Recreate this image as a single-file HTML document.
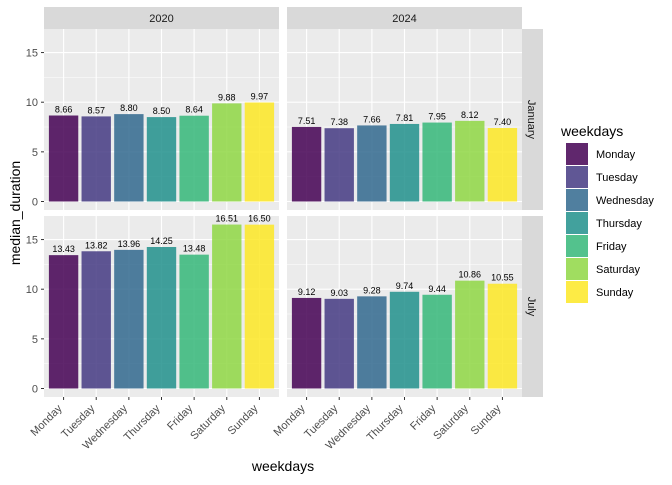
<!DOCTYPE html>
<html><head><meta charset="utf-8"><style>
body{margin:0;background:#fff;}
svg text{font-family:"Liberation Sans",sans-serif;}
</style></head><body>
<svg id="chart" width="672" height="480" xmlns="http://www.w3.org/2000/svg"></svg>
<script>
const categories=["Monday","Tuesday","Wednesday","Thursday","Friday","Saturday","Sunday"];
const colors=["#440154","#443A83","#31688E","#21908C","#35B779","#8FD744","#FDE725"];
const years=["2020","2024"];
const months=["January","July"];
const values2020Jan=[8.66,8.57,8.80,8.50,8.64,9.88,9.97];
const values2024Jan=[7.51,7.38,7.66,7.81,7.95,8.12,7.40];
const values2020Jul=[13.43,13.82,13.96,14.25,13.48,16.51,16.50];
const values2024Jul=[9.12,9.03,9.28,9.74,9.44,10.86,10.55];
const yTicks=[0,5,10,15];
const series=[[values2020Jan,values2024Jan],[values2020Jul,values2024Jul]];

const svg=document.getElementById('chart');
const NS="http://www.w3.org/2000/svg";
function mk(tag,attrs,parent){const e=document.createElementNS(NS,tag);for(const k in attrs)e.setAttribute(k,attrs[k]);(parent||svg).appendChild(e);return e;}
const panelX=[44,287],panelW=235;
const panelY=[29,216],panelH=181;
const unitX=panelW/7.2;
function xPos(px,i){return px+(0.6+i)*unitX;}
function yPos(py,v){return py+172.5-v*9.93;}

for(let r=0;r<2;r++){for(let c=0;c<2;c++){
  const px=panelX[c],py=panelY[r];
  const bg=mk('rect',{x:px,y:py,width:panelW,height:panelH,fill:'#EBEBEB'});
  
  
  for(let v=2.5;v<=17.5;v+=5){const y=yPos(py,v);if(y>py)mk('line',{x1:px,x2:px+panelW,y1:y,y2:y,stroke:'#fff','stroke-width':0.5});}
  yTicks.forEach(v=>{const y=yPos(py,v);mk('line',{x1:px,x2:px+panelW,y1:y,y2:y,stroke:'#fff','stroke-width':1.1});});
  categories.forEach((cat,i)=>{const x=xPos(px,i);mk('line',{x1:x,x2:x,y1:py,y2:py+panelH,stroke:'#fff','stroke-width':1.1});});
  const vals=series[r][c];
  categories.forEach((cat,i)=>{
    const x=xPos(px,i),w=0.9*unitX,y0=yPos(py,0),y1=yPos(py,vals[i]);
    const b=mk('rect',{x:x-w/2,y:y1,width:w,height:y0-y1,fill:colors[i],'fill-opacity':0.85});
    
    
    const t=mk('text',{x:x,y:y1-3,'font-size':9,'text-anchor':'middle',fill:'#000'});
    t.textContent=vals[i].toFixed(2);
    
    
  });
}}
// strips
years.forEach((yr,c)=>{
  const s=mk('rect',{x:panelX[c],y:7,width:panelW,height:22,fill:'#D9D9D9'});
  
  const t=mk('text',{x:panelX[c]+panelW/2,y:22,'font-size':11,'text-anchor':'middle',fill:'#1A1A1A'});t.textContent=yr;
  
});
months.forEach((m,r)=>{
  const s=mk('rect',{x:522,y:panelY[r],width:21,height:panelH,fill:'#D9D9D9'});
  
  const cy=panelY[r]+panelH/2;
  const t=mk('text',{x:528,y:cy,'font-size':11,'text-anchor':'middle',fill:'#1A1A1A',transform:`rotate(90 528 ${cy})`});t.textContent=m;
  
});
// y axis
panelY.forEach(py=>{yTicks.forEach(v=>{const y=yPos(py,v);
  mk('line',{x1:41,x2:44,y1:y,y2:y,stroke:'#333','stroke-width':1});
  const t=mk('text',{x:38,y:y+4,'font-size':11,'text-anchor':'end',fill:'#4D4D4D'});t.textContent=v;
  
});});
// x axis
panelX.forEach(px=>{categories.forEach((cat,i)=>{const x=xPos(px,i);
  mk('line',{x1:x,x2:x,y1:397,y2:400,stroke:'#333','stroke-width':1});
  const ax=x-1,ay=409;
  const t=mk('text',{x:ax,y:ay,'font-size':11,'text-anchor':'end',fill:'#4D4D4D',transform:`rotate(-45 ${ax} ${ay})`});t.textContent=cat;
  
});});
const xt=mk('text',{x:283,y:471,'font-size':14,'text-anchor':'middle',fill:'#000'});xt.textContent='weekdays';

const yt=mk('text',{x:20,y:213,'font-size':14,'text-anchor':'middle',fill:'#000',transform:'rotate(-90 20 213)'});yt.textContent='median_duration';

// legend
const lt=mk('text',{x:561,y:136,'font-size':14,fill:'#000'});lt.textContent='weekdays';

categories.forEach((cat,i)=>{const y=143+i*23;
  const k=mk('rect',{x:566,y:y,width:22,height:22,fill:colors[i],'fill-opacity':0.85});
  
  const t=mk('text',{x:596,y:y+15,'font-size':11,fill:'#000'});t.textContent=cat;
  
});
</script>
</body></html>
